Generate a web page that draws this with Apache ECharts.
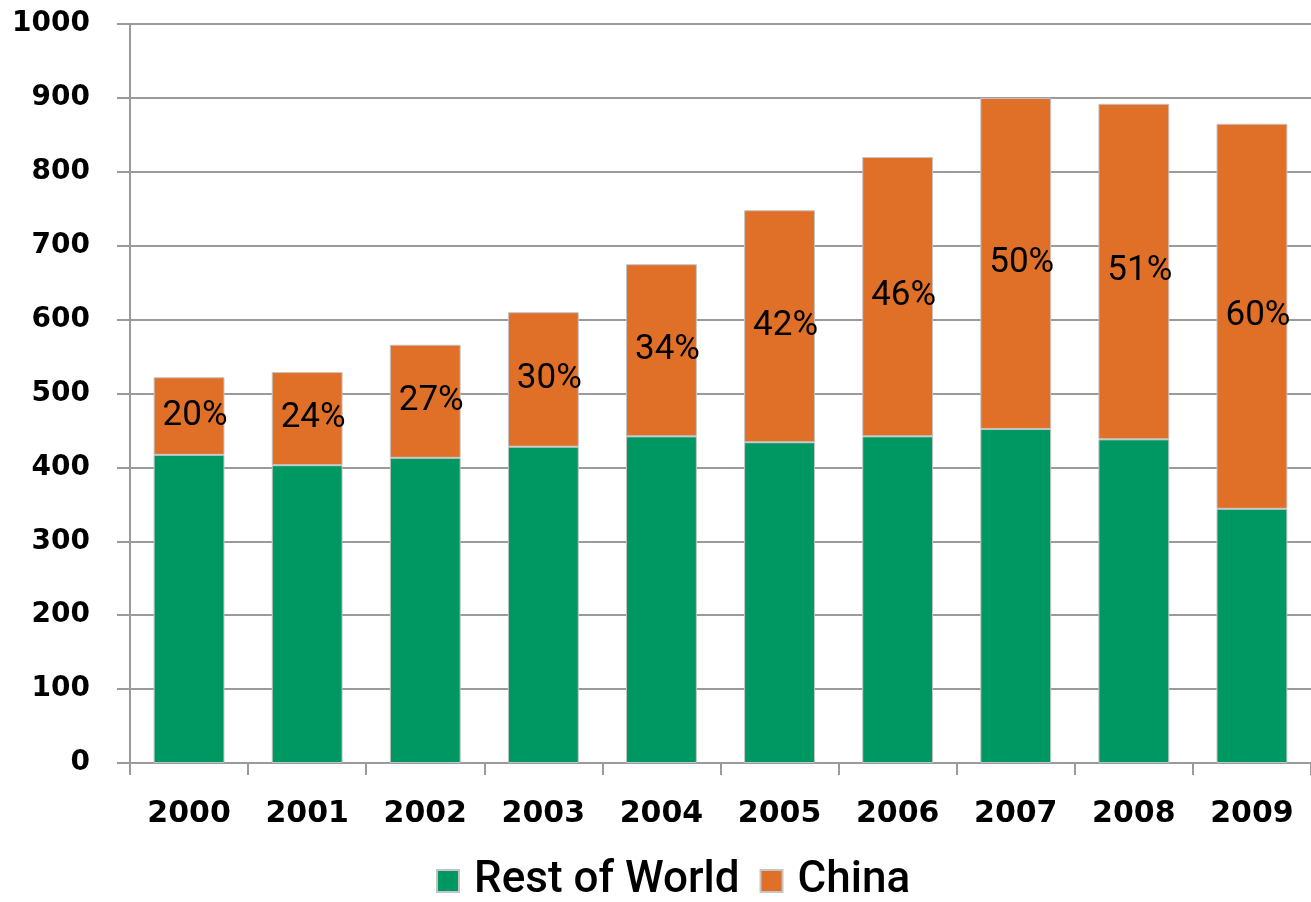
<!DOCTYPE html>
<html>
<head>
<meta charset="utf-8">
<script src="https://cdn.jsdelivr.net/npm/echarts@6/dist/echarts.min.js"></script>
<style>
  html, body { margin: 0; padding: 0; background: #ffffff; }
  #chart { width: 1311px; height: 902px; }
</style>
</head>
<body>
<div id="chart"></div>
<script>
// Years on the category axis
const years = ['2000', '2001', '2002', '2003', '2004', '2005', '2006', '2007', '2008', '2009'];
// Rest of World volume per year
const restOfWorld = [417, 403, 413, 428, 442, 434, 442, 452, 438, 344];
// China volume per year (stacked on top)
const china = [105, 126, 153, 182, 233, 314, 378, 448, 454, 521];
// China's share of the yearly total
const chinaShare = ['20%', '24%', '27%', '30%', '34%', '42%', '46%', '50%', '51%', '60%'];
// Value axis ticks
const yMin = 0, yMax = 1000, yStep = 100;

const chart = echarts.init(document.getElementById('chart'));

const axisGray = '#9a9a9a';
const tickFont = { fontFamily: 'DejaVu Sans', fontWeight: 'bold', color: '#000000' };

chart.setOption({
  animation: false,
  backgroundColor: '#ffffff',
  grid: { left: 130, right: 0, top: 24, bottom: 139, containLabel: false },
  legend: {
    top: 853,
    left: 431,
    itemWidth: 22,
    itemHeight: 22,
    itemGap: 20,
    icon: 'rect',
    textStyle: {
      fontFamily: 'Roboto, sans-serif',
      fontWeight: 500,
      fontSize: 44,
      lineHeight: 46,
      color: '#000000',
      padding: [0, 0, 0, 10]
    },
    data: ['Rest of World', 'China']
  },
  xAxis: {
    type: 'category',
    data: years,
    axisLine: { lineStyle: { color: axisGray, width: 2 } },
    axisTick: { show: true, length: 12, lineStyle: { color: axisGray, width: 2 } },
    axisLabel: Object.assign({ margin: 36, fontSize: 30 }, tickFont),
    splitLine: { show: false }
  },
  yAxis: {
    type: 'value',
    min: yMin,
    max: yMax,
    interval: yStep,
    axisLine: { show: true, lineStyle: { color: axisGray, width: 2 } },
    axisTick: { show: true, length: 13, lineStyle: { color: axisGray, width: 2 } },
    axisLabel: Object.assign({ margin: 40, fontSize: 28, formatter: v => String(v) }, tickFont),
    splitLine: { show: true, lineStyle: { color: axisGray, width: 2 } }
  },
  series: [
    {
      name: 'Rest of World',
      type: 'bar',
      stack: 'total',
      barWidth: '60%',
      data: restOfWorld,
      itemStyle: { color: '#009862', borderColor: '#c4c4c4', borderWidth: 1 }
    },
    {
      name: 'China',
      type: 'bar',
      stack: 'total',
      barWidth: '60%',
      data: china,
      itemStyle: { color: '#E07028', borderColor: '#c4c4c4', borderWidth: 1 },
      label: {
        show: true,
        position: 'inside',
        offset: [6, 0],
        formatter: p => chinaShare[p.dataIndex],
        fontFamily: 'Roboto, sans-serif',
        fontSize: 35,
        color: '#000000'
      }
    }
  ]
});
</script>
</body>
</html>
